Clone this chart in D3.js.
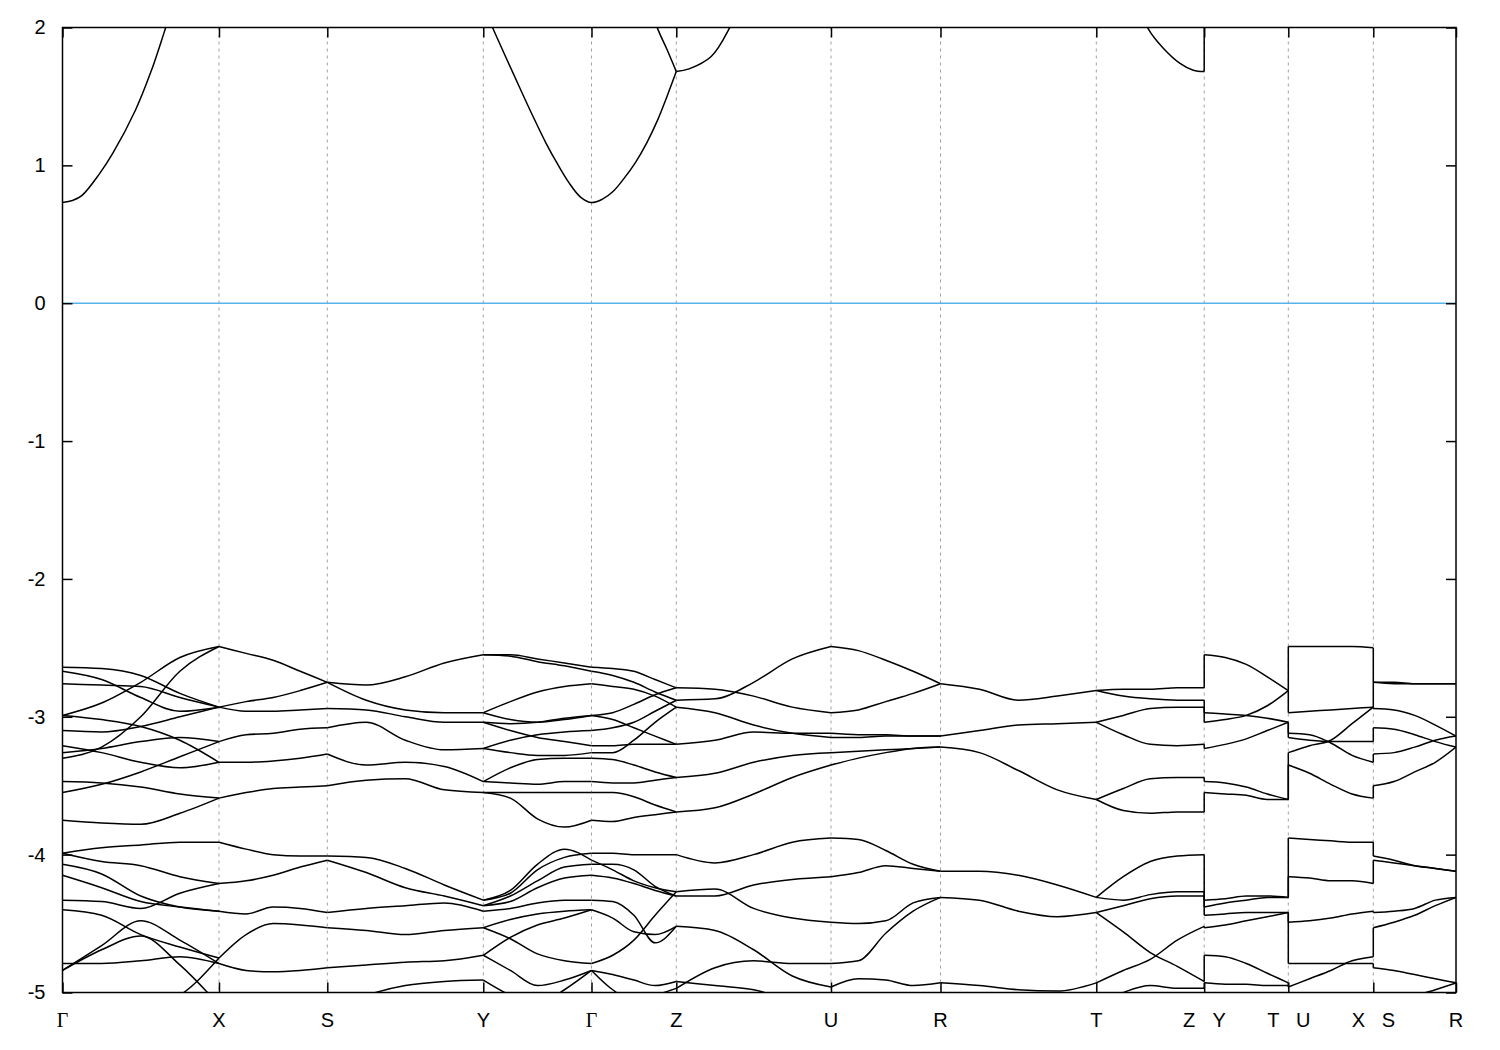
<!DOCTYPE html>
<html><head><meta charset="utf-8">
<script src="https://cdn.jsdelivr.net/npm/d3@7"></script>
<style>body{margin:0;background:#fff;} svg{display:block;}</style>
</head><body><svg id="c" width="1500" height="1050"></svg>
<script>
// ---- high-symmetry path (k distance) and labels ----
const kTicks = [0, 156.5, 264.8, 420.8, 529, 613.8, 768.5, 878, 1033.8, 1141.7, 1225.8, 1310.8, 1393.5];
const kLabels = ["Γ","X","S","Y","Γ","Z","U","R","T","Z|Y","T|U","X|S","R"];
const yTicks = [-5,-4,-3,-2,-1,0,1,2];
const fracs = [0, 0.25, 0.5, 0.75, 1];

// ---- valence bands: energies (eV) sampled at fracs along each segment ----
const bandsGX = [
 [-2.99,-2.90,-2.75,-2.57,-2.49],[-3.30,-3.22,-3.00,-2.67,-2.49],[-2.64,-2.65,-2.70,-2.83,-2.93],
 [-2.67,-2.73,-2.86,-2.96,-2.93],[-2.76,-2.77,-2.78,-2.86,-2.93],[-2.99,-3.02,-3.07,-3.17,-3.33],
 [-3.10,-3.11,-3.07,-3.00,-2.93],[-3.21,-3.26,-3.33,-3.37,-3.33],[-3.26,-3.23,-3.18,-3.15,-3.18],
 [-3.47,-3.48,-3.51,-3.56,-3.59],[-3.55,-3.49,-3.40,-3.29,-3.18],[-3.75,-3.77,-3.78,-3.70,-3.59],
 [-3.99,-3.95,-3.93,-3.91,-3.91],[-3.99,-4.05,-4.08,-4.16,-4.21],[-4.07,-4.14,-4.30,-4.38,-4.41],
 [-4.15,-4.24,-4.34,-4.38,-4.41],[-4.33,-4.34,-4.39,-4.28,-4.21],[-4.40,-4.44,-4.58,-4.67,-4.75],
 [-4.84,-4.66,-4.48,-4.62,-4.79],[-4.79,-4.79,-4.77,-4.74,-4.79],[-4.84,-4.69,-4.59,-4.80,-5.09],
 [-5.27,-5.20,-5.11,-5.02,-4.75]
];
const bandsXS = [
 [-2.49,-2.54,-2.59,-2.67,-2.75],[-2.93,-2.89,-2.86,-2.81,-2.75],[-2.93,-2.96,-2.96,-2.95,-2.94],
 [-3.18,-3.13,-3.12,-3.09,-3.08],[-3.33,-3.33,-3.32,-3.30,-3.27],[-3.59,-3.55,-3.52,-3.51,-3.50],
 [-3.91,-3.96,-4.00,-4.01,-4.01],[-4.21,-4.19,-4.15,-4.09,-4.04],[-4.41,-4.43,-4.38,-4.39,-4.42],
 [-4.75,-4.58,-4.50,-4.51,-4.53],[-4.79,-4.84,-4.85,-4.84,-4.82]
];
const bandsSY = [
 [-2.75,-2.77,-2.71,-2.61,-2.55],[-2.75,-2.88,-2.95,-2.97,-2.97],[-2.94,-2.95,-3.00,-3.04,-3.04],
 [-3.08,-3.04,-3.17,-3.24,-3.23],[-3.27,-3.35,-3.33,-3.36,-3.47],[-3.50,-3.46,-3.45,-3.53,-3.55],
 [-4.01,-4.02,-4.10,-4.22,-4.33],[-4.04,-4.13,-4.24,-4.30,-4.37],[-4.42,-4.39,-4.37,-4.35,-4.41],
 [-4.53,-4.55,-4.58,-4.55,-4.53],[-4.82,-4.80,-4.78,-4.77,-4.73],[-5.13,-5.02,-4.95,-4.92,-4.91]
];
const bandsYG = [
 [-2.55,-2.55,-2.58,-2.61,-2.64],[-2.55,-2.56,-2.60,-2.63,-2.67],[-2.97,-2.89,-2.82,-2.78,-2.76],
 [-2.97,-3.02,-3.04,-3.02,-2.99],[-3.04,-3.05,-3.04,-3.01,-2.99],[-3.04,-3.10,-3.15,-3.18,-3.21],
 [-3.23,-3.17,-3.13,-3.11,-3.10],[-3.23,-3.26,-3.28,-3.28,-3.26],[-3.47,-3.37,-3.31,-3.30,-3.30],
 [-3.47,-3.48,-3.49,-3.47,-3.47],[-3.55,-3.55,-3.55,-3.55,-3.55],[-3.55,-3.59,-3.74,-3.80,-3.75],
 [-4.33,-4.26,-4.07,-3.96,-4.04],[-4.33,-4.28,-4.11,-4.02,-3.99],[-4.37,-4.30,-4.19,-4.09,-4.07],
 [-4.37,-4.34,-4.24,-4.17,-4.15],[-4.41,-4.39,-4.35,-4.33,-4.33],[-4.53,-4.47,-4.43,-4.41,-4.40],
 [-4.53,-4.61,-4.72,-4.77,-4.79],[-4.73,-4.60,-4.51,-4.46,-4.40],[-4.73,-4.84,-4.95,-4.91,-4.84],
 [-4.91,-5.02,-5.09,-4.98,-4.84]
];
const bandsGZ = [
 [-2.64,-2.65,-2.67,-2.73,-2.79],[-2.67,-2.70,-2.75,-2.82,-2.88],[-2.76,-2.78,-2.80,-2.85,-2.93],
 [-2.99,-2.97,-2.91,-2.84,-2.79],[-2.99,-3.02,-3.08,-3.14,-3.20],[-3.10,-3.08,-3.04,-2.96,-2.88],
 [-3.21,-3.21,-3.20,-3.20,-3.20],[-3.26,-3.26,-3.17,-3.04,-2.93],[-3.30,-3.31,-3.35,-3.40,-3.44],
 [-3.47,-3.48,-3.48,-3.46,-3.44],[-3.55,-3.55,-3.58,-3.64,-3.69],[-3.75,-3.76,-3.73,-3.71,-3.69],
 [-3.99,-3.99,-4.00,-4.00,-4.00],[-4.04,-4.11,-4.19,-4.24,-4.27],[-4.07,-4.07,-4.11,-4.23,-4.30],
 [-4.15,-4.17,-4.21,-4.26,-4.30],[-4.33,-4.34,-4.44,-4.64,-4.52],[-4.40,-4.46,-4.56,-4.58,-4.52],
 [-4.79,-4.73,-4.62,-4.44,-4.27],[-4.84,-4.87,-4.91,-4.95,-4.92],[-4.84,-4.98,-5.06,-5.02,-4.97]
];
const bandsZU = [
 [-2.88,-2.87,-2.75,-2.58,-2.49],[-2.79,-2.80,-2.85,-2.93,-2.97],[-2.93,-2.97,-3.06,-3.12,-3.15],
 [-3.20,-3.17,-3.11,-3.12,-3.12],[-3.44,-3.41,-3.33,-3.28,-3.26],[-3.69,-3.66,-3.56,-3.44,-3.35],
 [-4.00,-4.06,-4.00,-3.91,-3.88],[-4.27,-4.25,-4.39,-4.46,-4.49],[-4.30,-4.30,-4.22,-4.18,-4.16],
 [-4.52,-4.55,-4.69,-4.88,-4.96],[-4.92,-4.95,-4.98,-5.06,-5.13],[-4.97,-4.82,-4.77,-4.79,-4.79]
];
const bandsUR = [
 [-2.49,-2.52,-2.59,-2.67,-2.76],[-2.97,-2.95,-2.89,-2.83,-2.76],[-3.15,-3.15,-3.14,-3.14,-3.14],
 [-3.12,-3.13,-3.13,-3.14,-3.14],[-3.26,-3.25,-3.24,-3.23,-3.22],[-3.35,-3.30,-3.26,-3.23,-3.22],
 [-3.88,-3.89,-3.97,-4.07,-4.12],[-4.16,-4.13,-4.08,-4.10,-4.12],[-4.49,-4.50,-4.48,-4.35,-4.31],
 [-4.79,-4.77,-4.57,-4.41,-4.31],[-4.96,-4.90,-4.91,-4.95,-4.93]
];
const bandsRT = [
 [-2.76,-2.80,-2.88,-2.85,-2.81],[-3.14,-3.10,-3.06,-3.05,-3.04],[-3.22,-3.26,-3.39,-3.53,-3.60],
 [-4.12,-4.12,-4.15,-4.22,-4.31],[-4.31,-4.33,-4.41,-4.45,-4.42],[-4.93,-4.95,-4.98,-4.99,-4.93]
];
const bandsTZ = [
 [-2.81,-2.80,-2.80,-2.79,-2.79],[-2.81,-2.85,-2.87,-2.88,-2.88],[-3.04,-2.99,-2.94,-2.93,-2.93],
 [-3.04,-3.13,-3.20,-3.21,-3.20],[-3.60,-3.52,-3.45,-3.44,-3.44],[-3.60,-3.68,-3.70,-3.69,-3.69],
 [-4.31,-4.16,-4.05,-4.01,-4.00],[-4.31,-4.33,-4.29,-4.27,-4.27],[-4.42,-4.37,-4.32,-4.30,-4.30],
 [-4.42,-4.56,-4.71,-4.81,-4.92],[-4.93,-4.84,-4.76,-4.62,-4.52],[-5.09,-5.00,-4.95,-4.97,-4.97]
];
const bandsYT = [
 [-2.55,-2.57,-2.62,-2.71,-2.81],[-2.97,-2.98,-2.99,-3.01,-3.04],[-3.04,-3.02,-2.99,-2.92,-2.81],
 [-3.23,-3.20,-3.16,-3.10,-3.04],[-3.47,-3.48,-3.51,-3.56,-3.60],[-3.55,-3.56,-3.57,-3.60,-3.60],
 [-4.33,-4.32,-4.30,-4.30,-4.31],[-4.38,-4.35,-4.33,-4.31,-4.31],[-4.44,-4.43,-4.42,-4.42,-4.42],
 [-4.53,-4.51,-4.48,-4.45,-4.42],[-4.73,-4.74,-4.79,-4.86,-4.93],[-4.93,-4.94,-4.94,-4.95,-4.95]
];
const bandsUX = [
 [-2.49,-2.49,-2.49,-2.49,-2.50],[-2.97,-2.96,-2.95,-2.94,-2.93],[-3.12,-3.13,-3.19,-3.28,-3.33],
 [-3.15,-3.17,-3.18,-3.18,-3.18],[-3.26,-3.21,-3.17,-3.05,-2.93],[-3.35,-3.41,-3.49,-3.56,-3.59],
 [-3.88,-3.89,-3.90,-3.91,-3.91],[-4.16,-4.17,-4.19,-4.19,-4.21],[-4.49,-4.48,-4.46,-4.43,-4.41],
 [-4.79,-4.79,-4.79,-4.79,-4.79],[-4.96,-4.90,-4.84,-4.77,-4.74]
];
const bandsSR = [
 [-2.75,-2.76,-2.76,-2.76,-2.76],[-2.75,-2.75,-2.76,-2.76,-2.76],[-2.94,-2.95,-2.99,-3.06,-3.14],
 [-3.08,-3.09,-3.13,-3.18,-3.22],[-3.27,-3.26,-3.22,-3.17,-3.14],[-3.50,-3.47,-3.40,-3.33,-3.22],
 [-4.01,-4.04,-4.08,-4.10,-4.12],[-4.04,-4.06,-4.08,-4.10,-4.12],[-4.42,-4.41,-4.39,-4.33,-4.31],
 [-4.53,-4.49,-4.44,-4.37,-4.31],[-4.82,-4.84,-4.87,-4.90,-4.93],[-5.25,-5.12,-5.03,-4.98,-4.93]
];

// ---- conduction band pieces: [k, E] ----
const cbGX = [[0,0.73],[10,0.745],[19.3,0.78],[37.1,0.94],[50.5,1.09],[72.9,1.40],[88.5,1.68],[101.9,1.97],[120,2.38],[156.5,2.9]];
const cbYGZ = [[420.8,2.15],[430,2.00],[443,1.79],[456.8,1.57],[470.2,1.36],[483.6,1.16],[495,1.01],[505.9,0.88],
               [518,0.77],[529,0.73],[540,0.755],[550.5,0.81],[561,0.90],[572.9,1.02],[584,1.16],[595.2,1.33],
               [604.5,1.50],[613.8,1.68]];
const cbGZ2 = [[560,2.7],[595.2,1.99],[604.5,1.84],[613.8,1.68]];
const cbZU = [[613.8,1.68],[626.5,1.70],[648.7,1.79],[666.5,1.99],[690,2.4],[768.5,3.0]];
const cbTZ = [[1033.8,2.7],[1070,2.3],[1085.8,1.99],[1100.8,1.85],[1117.5,1.74],[1130.8,1.69],[1141.7,1.68]];

// ---- discontinuities (from E, to E) ----
const jumpZY = [[-2.79,-2.55],[-2.88,-2.97],[-2.93,-3.04],[-3.20,-3.23],[-3.44,-3.47],[-3.69,-3.55],
 [-4.00,-4.33],[-4.27,-4.38],[-4.30,-4.44],[-4.52,-4.53],[-4.92,-4.73],[-4.97,-4.93],[1.68,2.6]];
const jumpTU = [[-2.81,-2.49],[-2.81,-2.97],[-3.04,-3.12],[-3.04,-3.15],[-3.60,-3.26],[-3.60,-3.35],
 [-4.31,-3.88],[-4.31,-4.16],[-4.42,-4.49],[-4.42,-4.79],[-4.93,-4.96]];
const jumpXS = [[-2.50,-2.75],[-2.93,-2.75],[-2.93,-2.94],[-3.18,-3.08],[-3.33,-3.27],[-3.59,-3.50],
 [-3.91,-4.01],[-4.21,-4.04],[-4.41,-4.42],[-4.74,-4.53],[-4.79,-4.82]];

// ---- drawing ----
const L = 62.5, R = 1456, T = 27.5, B = 992.5;
const x = d3.scaleLinear().domain([0, kTicks[kTicks.length-1]]).range([L, R]);
const y = d3.scaleLinear().domain([-5, 2]).range([B, T]);
const svg = d3.select("#c");
svg.append("rect").attr("width",1500).attr("height",1050).attr("fill","#fff");
svg.append("defs").append("clipPath").attr("id","clip").append("rect")
  .attr("x",L).attr("y",T).attr("width",R-L).attr("height",B-T);

const sansFont = "'Liberation Sans', Arial, Helvetica, sans-serif";
const serifFont = "'Liberation Serif', 'Times New Roman', serif";

// grid
svg.append("g").selectAll("line").data(kTicks.slice(1,-1)).join("line")
  .attr("x1",d=>x(d)).attr("x2",d=>x(d)).attr("y1",T).attr("y2",B)
  .attr("stroke","#a0a0a0").attr("stroke-width",1).attr("stroke-dasharray","3,4");

// zero line
svg.append("line").attr("x1",L).attr("x2",R).attr("y1",y(0)).attr("y2",y(0))
  .attr("stroke","#56b4e9").attr("stroke-width",1.5);

const plot = svg.append("g").attr("clip-path","url(#clip)");
const smooth = d3.line().x(d=>x(d[0])).y(d=>y(d[1])).curve(d3.curveMonotoneX);
const spline = d3.line().x(d=>x(d[0])).y(d=>y(d[1])).curve(d3.curveCatmullRom.alpha(0.5));
const straight = d3.line().x(d=>x(d[0])).y(d=>y(d[1]));

const segments = [bandsGX,bandsXS,bandsSY,bandsYG,bandsGZ,bandsZU,bandsUR,bandsRT,bandsTZ,bandsYT,bandsUX,bandsSR];
segments.forEach((bands, s) => {
  const k0 = kTicks[s], k1 = kTicks[s+1];
  bands.forEach(b => {
    plot.append("path").attr("d", smooth(b.map((e,i)=>[k0 + fracs[i]*(k1-k0), e])))
      .attr("fill","none").attr("stroke","#000").attr("stroke-width",1.5).attr("stroke-linejoin","round");
  });
});
[cbGX, cbYGZ, cbGZ2, cbZU, cbTZ].forEach(c => {
  plot.append("path").attr("d", spline(c)).attr("fill","none").attr("stroke","#000").attr("stroke-width",1.5);
});
[[jumpZY,9],[jumpTU,10],[jumpXS,11]].forEach(([pairs, ti]) => {
  pairs.forEach(p => {
    plot.append("path").attr("d", straight([[kTicks[ti],p[0]],[kTicks[ti],p[1]]]))
      .attr("fill","none").attr("stroke","#000").attr("stroke-width",1.5);
  });
});

// axes (inward ticks on all sides)
function styleAxis(g){ g.select(".domain").remove(); g.selectAll(".tick line").attr("stroke","#000").attr("stroke-width",1.5); }
svg.append("g").attr("transform",`translate(${L},0)`)
  .call(d3.axisLeft(y).tickValues(yTicks).tickSize(-10).tickPadding(17).tickFormat(d=>String(d)))
  .call(styleAxis)
  .call(g=>g.selectAll("text").attr("font-size",20).attr("font-family",sansFont).attr("fill","#000"));
svg.append("g").attr("transform",`translate(${R},0)`)
  .call(d3.axisRight(y).tickValues(yTicks).tickSize(-10).tickFormat("")).call(styleAxis);
svg.append("g").attr("transform",`translate(0,${B})`)
  .call(d3.axisBottom(x).tickValues(kTicks).tickSize(-10).tickFormat("")).call(styleAxis);
svg.append("g").attr("transform",`translate(0,${T})`)
  .call(d3.axisTop(x).tickValues(kTicks).tickSize(-10).tickFormat("")).call(styleAxis);

// k-point labels
kLabels.forEach((lab, i) => {
  const parts = lab.split("|");
  const offs = parts.length === 2 ? [-15, 15] : [0];
  parts.forEach((p, j) => {
    svg.append("text").attr("x", x(kTicks[i]) + offs[j]).attr("y", 1027)
      .attr("text-anchor","middle").attr("font-size",20)
      .attr("font-family", p === "Γ" ? serifFont : sansFont).attr("fill","#000").text(p);
  });
});

// border
svg.append("rect").attr("x",L).attr("y",T).attr("width",R-L).attr("height",B-T)
  .attr("fill","none").attr("stroke","#000").attr("stroke-width",1.5);
</script>
</body></html>
